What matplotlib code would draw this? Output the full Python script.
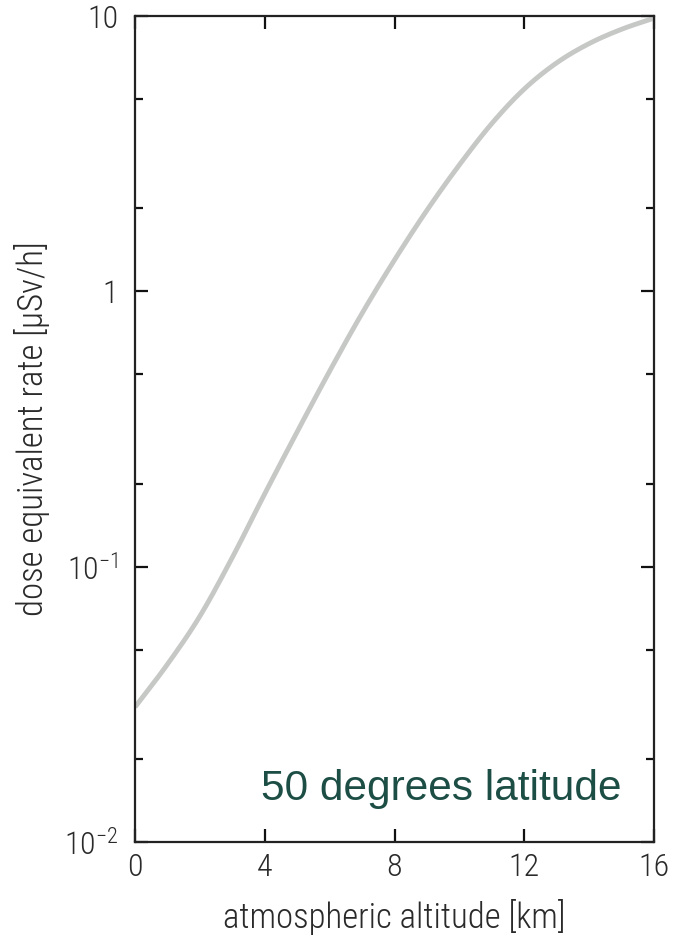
import matplotlib
matplotlib.use("Agg")
import matplotlib.pyplot as plt
from matplotlib import font_manager
from matplotlib.font_manager import FontProperties
import matplotlib.ticker as mticker
import numpy as np

altitude_km = [0, 1, 2, 3, 4, 5, 6, 7, 8, 9, 10, 11, 12, 13, 14, 15, 16]
dose_rate = [0.0309, 0.0442, 0.0661, 0.108, 0.184, 0.309, 0.513, 0.832, 1.30,
             1.97, 2.88, 4.07, 5.43, 6.76, 7.94, 8.95, 9.82]
x_ticks = [0, 4, 8, 12, 16]
y_major = [1e-2, 1e-1, 1, 10]
y_major_labels = [r"$10^{-2}$", r"$10^{-1}$", "1", "10"]
y_minor = [0.02, 0.05, 0.2, 0.5, 2, 5]

# pick a condensed font if one is installed
cond_family, cond_stretch = "DejaVu Sans", "normal"
for fam in ["Liberation Sans Narrow", "Roboto Condensed", "Open Sans Condensed",
            "Noto Sans Condensed"]:
    try:
        font_manager.findfont(FontProperties(family=fam), fallback_to_default=False)
        cond_family = fam
        break
    except Exception:
        pass
else:
    for fam in ["Noto Sans", "DejaVu Sans", "Open Sans", "Roboto"]:
        try:
            f = font_manager.findfont(FontProperties(family=fam, stretch="condensed"),
                                      fallback_to_default=False)
            if "ondensed" in f or "arrow" in f:
                cond_family, cond_stretch = fam, "condensed"
                break
        except Exception:
            pass

plt.rcParams["font.family"] = [cond_family, "DejaVu Sans"]
plt.rcParams["font.stretch"] = cond_stretch
plt.rcParams["font.weight"] = "light"
plt.rcParams["axes.labelweight"] = "light"
plt.rcParams["mathtext.fontset"] = "custom"
plt.rcParams["mathtext.rm"] = cond_family + ":light"
plt.rcParams["mathtext.it"] = cond_family + ":light"
plt.rcParams["mathtext.default"] = "regular"

fig = plt.figure(figsize=(6.77, 9.35), dpi=100)
ax = fig.add_axes([135/677, 1-842/935, (654-135)/677, (842-16)/935])

xs = np.array(altitude_km, dtype=float)
ys = np.log10(np.array(dose_rate))
xf = np.linspace(0, 16, 400)

def hermite(x, xp, fp):
    m = np.gradient(fp, xp)
    out = np.empty_like(x)
    n = len(xp)
    for i, xv in enumerate(x):
        k = min(max(np.searchsorted(xp, xv) - 1, 0), n - 2)
        h = xp[k+1] - xp[k]
        t = (xv - xp[k]) / h
        out[i] = ((2*t**3 - 3*t**2 + 1)*fp[k] + (t**3 - 2*t**2 + t)*h*m[k]
                  + (-2*t**3 + 3*t**2)*fp[k+1] + (t**3 - t**2)*h*m[k+1])
    return out

yf = 10**hermite(xf, xs, ys)
ax.plot(xf, yf, color="#c6c8c6", lw=3.5, solid_capstyle="butt")

ax.set_yscale("log")
ax.set_xlim(0, 16)
ax.set_ylim(1e-2, 10)

ax.set_xticks(x_ticks)
ax.set_xticklabels([str(v) for v in x_ticks])
ax.set_yticks(y_major)
ax.set_yticklabels(y_major_labels)
ax.set_yticks(y_minor, minor=True)
ax.yaxis.set_minor_formatter(mticker.NullFormatter())
ax.xaxis.set_minor_locator(mticker.NullLocator())

ax.tick_params(axis="both", which="major", direction="in", length=9.5, width=1.6,
               color="#111111", labelsize=23, labelcolor="#2a2a2a",
               top=True, right=True)
ax.tick_params(axis="y", which="minor", direction="in", length=5.5, width=1.6,
               color="#111111", right=True, left=True)
ax.tick_params(axis="x", which="major", pad=8)
ax.tick_params(axis="y", which="major", pad=12)

for s in ax.spines.values():
    s.set_linewidth(1.6)
    s.set_color("#222222")

ax.set_xlabel("atmospheric altitude [km]", fontsize=25, color="#2a2a2a",
              labelpad=12, fontweight="light")
ax.set_ylabel("dose equivalent rate [µSv/h]", fontsize=25, color="#2a2a2a",
              labelpad=10, fontweight="light")

ax.text(0.938, 0.051, "50 degrees latitude", transform=ax.transAxes,
        ha="right", va="baseline", fontsize=30.5, color="#1d4e45",
        family=["Liberation Sans", "DejaVu Sans"], stretch="normal", weight="normal")

fig.savefig("out.png", dpi=100)
